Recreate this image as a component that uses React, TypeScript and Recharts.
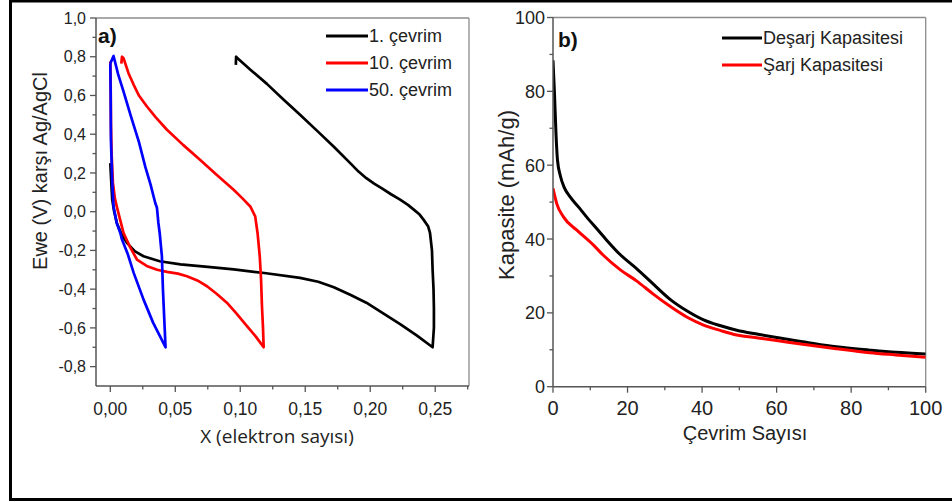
import React from 'react';
import { LineChart, Line, XAxis, YAxis, ReferenceLine, Legend } from 'recharts';

// ---------- Panel a) data: X (elektron sayısı) vs Ewe (V) ----------
const cycle1X = [0.0, 0.001, 0.0015, 0.003, 0.005, 0.009, 0.0128, 0.019, 0.0256, 0.038, 0.054, 0.075, 0.095, 0.12, 0.146, 0.16, 0.172, 0.185, 0.197, 0.21, 0.223, 0.236, 0.248,
  0.249, 0.249, 0.2487, 0.248, 0.2475, 0.246, 0.2445, 0.241, 0.238, 0.2333, 0.229, 0.223, 0.216, 0.209, 0.203, 0.197, 0.191, 0.185, 0.172, 0.16, 0.146, 0.133, 0.1205, 0.108, 0.0975, 0.0968, 0.0966];
const cycle1Y = [0.251, 0.12, 0.062, 0.0, -0.058, -0.12, -0.161, -0.205, -0.23, -0.256, -0.272, -0.285, -0.298, -0.318, -0.342, -0.362, -0.39, -0.43, -0.47, -0.525, -0.58, -0.64, -0.7,
  -0.6, -0.5, -0.4, -0.3, -0.2, -0.11, -0.075, -0.041, -0.015, 0.012, 0.035, 0.062, 0.09, 0.12, 0.145, 0.173, 0.207, 0.248, 0.335, 0.412, 0.5, 0.58, 0.66, 0.732, 0.795, 0.8, 0.758];

const cycle10X = [0.0, 0.0003, 0.0005, 0.001, 0.002, 0.0035, 0.005, 0.0075, 0.0102, 0.015, 0.0205, 0.028, 0.036, 0.0436, 0.052, 0.059, 0.067, 0.0744, 0.082, 0.0897, 0.097, 0.105, 0.112, 0.118,
  0.1175, 0.1167, 0.116, 0.115, 0.1133, 0.1115, 0.1077, 0.1015, 0.0949, 0.082, 0.069, 0.056, 0.0436, 0.035, 0.0282, 0.022, 0.018, 0.014, 0.0102, 0.009, 0.0085];
const cycle10Y = [0.775, 0.65, 0.45, 0.3, 0.15, 0.07, 0.027, -0.04, -0.11, -0.18, -0.247, -0.28, -0.3, -0.311, -0.32, -0.333, -0.355, -0.385, -0.425, -0.47, -0.525, -0.59, -0.645, -0.7,
  -0.6, -0.488, -0.35, -0.23, -0.11, -0.024, 0.027, 0.07, 0.113, 0.19, 0.268, 0.345, 0.423, 0.487, 0.543, 0.6, 0.655, 0.715, 0.792, 0.8, 0.765];

const cycle50X = [0.0, 0.0003, 0.0005, 0.0015, 0.0025, 0.005, 0.0077, 0.009, 0.0135, 0.018, 0.0256, 0.033, 0.038, 0.0425,
  0.0415, 0.0405, 0.0397, 0.038, 0.037, 0.0359, 0.0346, 0.031, 0.027, 0.022, 0.016, 0.0102, 0.006, 0.0025, 0.0];
const cycle50Y = [0.765, 0.6, 0.37, 0.15, 0.027, -0.06, -0.11, -0.144, -0.22, -0.316, -0.454, -0.574, -0.64, -0.7,
  -0.55, -0.4, -0.23, -0.11, -0.058, 0.02, 0.045, 0.14, 0.23, 0.36, 0.49, 0.62, 0.71, 0.804, 0.765];

const leftSeriesNames = ['1. çevrim', '10. çevrim', '50. çevrim'];
const leftSeriesColors = ['#000000', '#ff0000', '#0000ff'];

const leftXTicks = [0, 0.025, 0.05, 0.075, 0.1, 0.125, 0.15, 0.175, 0.2, 0.225, 0.25, 0.275];
const leftYTicks = [-0.8, -0.7, -0.6, -0.5, -0.4, -0.3, -0.2, -0.1, 0, 0.1, 0.2, 0.3, 0.4, 0.5, 0.6, 0.7, 0.8, 0.9, 1.0];

// ---------- Panel b) data: Çevrim Sayısı vs Kapasite ----------
const dischargeCycles = [0, 0.4, 0.8, 1.2, 2, 3, 4.6, 7, 9, 12, 14.4, 18, 22.5, 27, 31.5, 36, 40.4, 45, 49.3, 55, 60, 67, 76, 85, 92, 100];
const dischargeCap = [88.4, 79.4, 68.6, 61.4, 57, 54, 51.4, 48.5, 46, 42.5, 39.7, 35.8, 31.9, 27.7, 23.6, 20.5, 18.1, 16.5, 15.3, 14.2, 13.3, 12.2, 10.8, 9.9, 9.3, 8.85];
const chargeCycles = [0, 1, 2.8, 6.4, 10.8, 13.5, 18, 22.5, 27, 31.5, 36, 40.4, 45, 49.3, 55, 60, 67, 76, 85, 92, 100];
const chargeCap = [53.7, 49.6, 46, 42.4, 38.4, 35.6, 31.7, 28.6, 25.0, 21.7, 18.8, 16.7, 15.2, 14, 13.2, 12.5, 11.5, 10.3, 9.2, 8.6, 7.95];

const rightSeriesNames = ['Deşarj Kapasitesi', 'Şarj Kapasitesi'];
const rightSeriesColors = ['#000000', '#ff0000'];
const rightTicks = [0, 10, 20, 30, 40, 50, 60, 70, 80, 90, 100];

const FONT = '"Liberation Sans", Arial, Helvetica, sans-serif';
const AXIS = '#555555';
const FRAME = '#8c8c8c';
const TXT = '#222222';

const zip = (xs: number[], ys: number[]) => xs.map((x, i) => ({ x, y: ys[i] }));
const leftData = [zip(cycle1X, cycle1Y), zip(cycle10X, cycle10Y), zip(cycle50X, cycle50Y)];
const rightData = [zip(dischargeCycles, dischargeCap), zip(chargeCycles, chargeCap)];

const isMajor = (v: number, step: number) => Math.abs(v / step - Math.round(v / step)) < 1e-6;

const makeXTick = (step: number, fontSize: number, dy: number, fmt: (v: number) => string) => (props: any) => {
  const { x, y, payload } = props;
  const v = payload.value;
  const major = isMajor(v, step);
  return (
    <g>
      <line x1={x} x2={x} y1={y} y2={y + (major ? 6 : 3.5)} stroke={AXIS} strokeWidth={1.3} />
      {major && (
        <text x={x} y={y + dy} textAnchor="middle" fontSize={fontSize} fill={TXT} fontFamily={FONT}>
          {fmt(v)}
        </text>
      )}
    </g>
  );
};

const makeYTick = (step: number, fontSize: number, dx: number, fmt: (v: number) => string) => (props: any) => {
  const { x, y, payload } = props;
  const v = payload.value;
  const major = isMajor(v, step);
  return (
    <g>
      <line x1={x} x2={x - (major ? 6 : 3.5)} y1={y} y2={y} stroke={AXIS} strokeWidth={1.3} />
      {major && (
        <text x={x - dx} y={y + fontSize * 0.36} textAnchor="end" fontSize={fontSize} fill={TXT} fontFamily={FONT}>
          {fmt(v)}
        </text>
      )}
    </g>
  );
};

const commaFmt = (d: number) => (v: number) => v.toFixed(d).replace('.', ',');
const intFmt = (v: number) => String(Math.round(v));

const makeLegend = (names: string[], colors: string[], lineW: number, rowH: number) => () => (
  <div style={{ fontFamily: FONT, fontSize: 18, color: TXT }}>
    {names.map((n, i) => (
      <div key={n} style={{ display: 'flex', alignItems: 'center', height: rowH, whiteSpace: 'nowrap' }}>
        <svg width={lineW} height={6} style={{ display: 'block' }}>
          <line x1={0} x2={lineW} y1={3} y2={3} stroke={colors[i]} strokeWidth={3.2} />
        </svg>
        <span style={{ marginLeft: 1, lineHeight: '18px' }}>{n}</span>
      </div>
    ))}
  </div>
);

export default function App() {
  return (
    <div style={{ position: 'absolute', left: 0, top: 0, width: 952, height: 502, background: '#ffffff', overflow: 'hidden', fontFamily: FONT }}>
      <div style={{ position: 'absolute', left: 0, top: 0 }}>
        <LineChart width={476} height={502} margin={{ top: 18, right: 7, bottom: 76, left: 56 }}>
          <XAxis
            dataKey="x"
            type="number"
            domain={[-0.011, 0.276]}
            allowDataOverflow
            ticks={leftXTicks}
            interval={0}
            tickSize={0}
            tickMargin={0}
            height={40}
            axisLine={{ stroke: AXIS, strokeWidth: 1.5 }}
            tickLine={false}
            tick={makeXTick(0.05, 17.5, 29, commaFmt(2))}
          />
          <YAxis
            dataKey="y"
            type="number"
            domain={[-0.9, 1.0]}
            allowDataOverflow
            ticks={leftYTicks}
            interval={0}
            tickSize={0}
            tickMargin={0}
            width={40}
            axisLine={{ stroke: AXIS, strokeWidth: 1.5 }}
            tickLine={false}
            tick={makeYTick(0.2, 16, 10, commaFmt(1))}
          />
          <ReferenceLine y={1.0} stroke={FRAME} strokeWidth={1.3} />
          <ReferenceLine x={0.276} stroke={FRAME} strokeWidth={1.3} />
          {leftData.map((d, i) => (
            <Line
              key={leftSeriesNames[i]}
              name={leftSeriesNames[i]}
              data={d}
              dataKey="y"
              type="linear"
              stroke={leftSeriesColors[i]}
              strokeWidth={2.7}
              strokeLinejoin="round"
              dot={false}
              activeDot={false}
              isAnimationActive={false}
            />
          ))}
          <Legend
            layout="vertical"
            align="center"
            verticalAlign="middle"
            wrapperStyle={{ left: 326, top: 22.5, width: 'auto' }}
            content={makeLegend(leftSeriesNames, leftSeriesColors, 42, 27)}
          />
        </LineChart>
      </div>

      <div style={{ position: 'absolute', left: 476, top: 0 }}>
        <LineChart width={476} height={502} margin={{ top: 17.5, right: 26.3, bottom: 75.3, left: 37 }}>
          <XAxis
            dataKey="x"
            type="number"
            domain={[0, 100]}
            allowDataOverflow
            ticks={rightTicks}
            interval={0}
            tickSize={0}
            tickMargin={0}
            height={40}
            axisLine={{ stroke: AXIS, strokeWidth: 1.5 }}
            tickLine={false}
            tick={makeXTick(20, 20, 28.5, intFmt)}
          />
          <YAxis
            dataKey="y"
            type="number"
            domain={[0, 100]}
            allowDataOverflow
            ticks={rightTicks}
            interval={0}
            tickSize={0}
            tickMargin={0}
            width={40}
            axisLine={{ stroke: AXIS, strokeWidth: 1.5 }}
            tickLine={false}
            tick={makeYTick(20, 18, 8, intFmt)}
          />
          <ReferenceLine y={100} stroke={FRAME} strokeWidth={1.3} />
          <ReferenceLine x={100} stroke={FRAME} strokeWidth={1.3} />
          {rightData.map((d, i) => (
            <Line
              key={rightSeriesNames[i]}
              name={rightSeriesNames[i]}
              data={d}
              dataKey="y"
              type="monotone"
              stroke={rightSeriesColors[i]}
              strokeWidth={3}
              dot={false}
              activeDot={false}
              isAnimationActive={false}
            />
          ))}
          <Legend
            layout="vertical"
            align="center"
            verticalAlign="middle"
            wrapperStyle={{ left: 246, top: 25, width: 'auto' }}
            content={makeLegend(rightSeriesNames, rightSeriesColors, 40, 26.7)}
          />
        </LineChart>
      </div>

      <svg width={952} height={502} style={{ position: 'absolute', left: 0, top: 0, pointerEvents: 'none' }} fontFamily={FONT}>
        <rect x={10.5} y={1} width={950} height={498.5} fill="none" stroke="#000" strokeWidth={3} />
        <text x={98} y={42.5} fontSize={21} fontWeight="bold" fill="#111">a)</text>
        <text x={558} y={47} fontSize={21} fontWeight="bold" fill="#111">b)</text>
        <text transform="translate(46.5,171) rotate(-90)" textAnchor="middle" fontSize={20} fill={TXT}>Ewe (V) karşı Ag/AgCl</text>
        <text transform="translate(513.5,195) rotate(-90)" textAnchor="middle" fontSize={22} fill={TXT}>Kapasite (mAh/g)</text>
        <text x={277} y={442.7} textAnchor="middle" fontSize={19} fill={TXT} fontFamily='"Open Sans", sans-serif'>X (elektron sayısı)</text>
        <text x={745} y={440} textAnchor="middle" fontSize={20} fill={TXT}>Çevrim Sayısı</text>
      </svg>
    </div>
  );
}
